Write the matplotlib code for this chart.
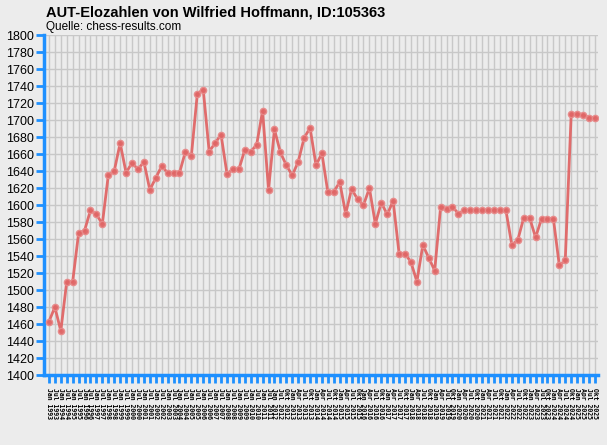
import matplotlib
matplotlib.use('Agg')
import matplotlib.pyplot as plt
import numpy as np

# Elo values
elo = [1463, 1480, 1452, 1510, 1510, 1567, 1570, 1594, 1589, 1578,
       1635, 1640, 1673, 1638, 1650, 1642, 1651, 1618, 1632, 1646,
       1638, 1638, 1638, 1663, 1658, 1731, 1736, 1663, 1673, 1683,
       1637, 1642, 1642, 1665, 1663, 1671, 1711, 1618, 1689, 1662,
       1647, 1635, 1651, 1679, 1691, 1647, 1661, 1615, 1616, 1627,
       1590, 1619, 1607, 1600, 1620, 1578, 1603, 1589, 1605, 1543,
       1543, 1533, 1510, 1553, 1538, 1523, 1598, 1596, 1598, 1590,
       1594, 1594, 1594, 1594, 1594, 1594, 1594, 1594, 1553, 1559,
       1585, 1585, 1562, 1584, 1584, 1584, 1529, 1535, 1707, 1707,
       1706, 1703, 1703]

# list dates: half-yearly until mid 2012, quarterly afterwards
half_years = list(range(1993, 2013))
quarter_years = list(range(2013, 2026))

labels = []
for y in half_years:
    labels.append('Jan ' + str(y))
    labels.append('Jul ' + str(y))
labels.append('Okt 2012')
for y in quarter_years:
    for m in ['Jan', 'Apr', 'Jul', 'Okt']:
        labels.append(m + ' ' + str(y))
labels = labels[:len(elo)]

y_ticks = list(range(1400, 1801, 20))

bg = '#ececec'
blue = '#1e90ff'
plt.rcParams['font.family'] = ['Liberation Sans', 'DejaVu Sans']

fig = plt.figure(figsize=(6.07, 4.45), dpi=100, facecolor=bg)
ax = fig.add_axes([0.0725, 0.157, 0.9125, 0.764])
ax.set_facecolor(bg)

x = np.arange(len(elo))
ax.plot(x, elo, color='#e06666', lw=2, marker='o', ms=4.5,
        mfc='#e06666', mec='#e88a8a', mew=1, alpha=0.95, zorder=3)

ax.set_xlim(-0.83, len(elo) - 0.5)
ax.set_ylim(1400, 1800)
ax.set_yticks(y_ticks)
ax.set_yticklabels([str(v) for v in y_ticks], fontsize=9)
ax.set_xticks(x)
ax.set_xticklabels(labels, rotation=-90, fontsize=4.7, va='top', ha='center',
                   family='DejaVu Sans Mono', fontweight='bold', color='black')

ax.grid(True, color='#c8c8c8', lw=1, zorder=0)
ax.set_axisbelow(True)

for s in ['top', 'right']:
    ax.spines[s].set_visible(False)
for s in ['left', 'bottom']:
    ax.spines[s].set_color(blue)
    ax.spines[s].set_linewidth(2.5)

ax.tick_params(axis='y', colors=blue, length=6, width=2, labelcolor='black', pad=1)
ax.tick_params(axis='x', colors=blue, length=6, width=2, labelcolor='black', pad=3)

fig.text(0.075, 0.973, 'AUT-Elozahlen von Wilfried Hoffmann, ID:105363',
         fontsize=10.5, fontweight='bold', va='center')
fig.text(0.075, 0.94, 'Quelle: chess-results.com', fontsize=8.5, va='center')

plt.savefig('out.png', dpi=100, facecolor=bg)
